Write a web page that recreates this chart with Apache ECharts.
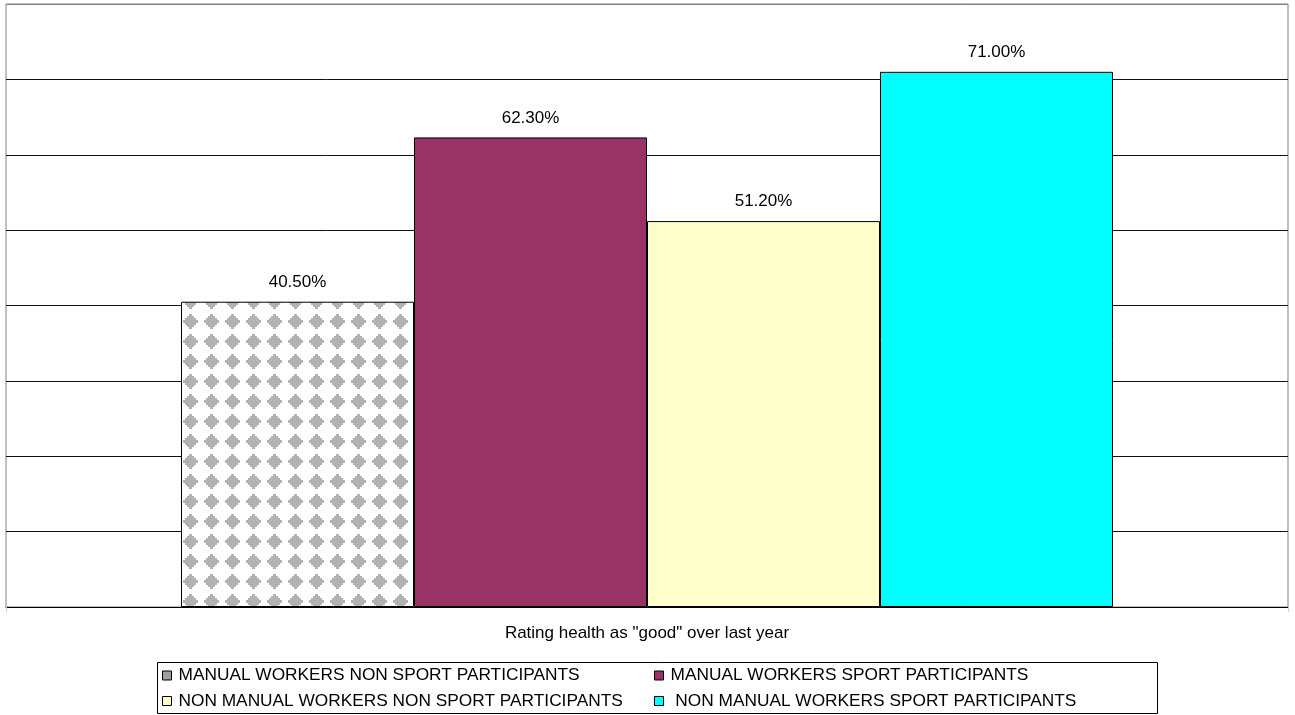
<!DOCTYPE html>
<html>
<head>
<meta charset="utf-8">
<script src="https://cdn.jsdelivr.net/npm/echarts@6/dist/echarts.min.js"></script>
<style>
html,body{margin:0;padding:0;background:#fff;}
#chart{width:1295px;height:715px;}
</style>
</head>
<body>
<div id="chart"></div>
<script>
// ---- data ----
const categories = ['Rating health as "good" over last year'];
const seriesNames = [
  'MANUAL WORKERS NON SPORT PARTICIPANTS',
  'MANUAL WORKERS SPORT PARTICIPANTS',
  'NON MANUAL WORKERS NON SPORT PARTICIPANTS',
  ' NON MANUAL WORKERS SPORT PARTICIPANTS'
];
const values = [40.5, 62.3, 51.2, 71.0];
const yTicks = [0, 10, 20, 30, 40, 50, 60, 70, 80];

// ---- pattern for first series (grey diamonds) ----
function makePattern() {
  const tw = 21, th = 20;
  const c = document.createElement('canvas');
  c.width = tw; c.height = th;
  const ctx = c.getContext('2d');
  ctx.fillStyle = '#fff';
  ctx.fillRect(0, 0, tw, th);
  ctx.fillStyle = '#b2b2b2';
  const cx0 = 1, cy0 = 1;
  const offs = [[0,0],[tw,0],[0,th],[tw,th],[-tw,0],[0,-th],[-tw,-th],[tw,-th],[-tw,th]];
  offs.forEach(([ox, oy]) => {
    for (let r = -7; r <= 7; r++) {
      const hw = 7 - Math.abs(r) + (Math.abs(r) % 2 === 1 ? 1 : 0);
      ctx.fillRect(cx0 + ox - hw, cy0 + oy + r, hw * 2 + 1, 1);
    }
  });
  return c;
}
const patternCanvas = makePattern();

const fills = [
  { image: patternCanvas, repeat: 'repeat' },
  '#993366',
  '#FFFFCC',
  '#00FFFF'
];
const legendIconColors = ['#a0a0a0', '#993366', '#FFFFCC', '#00FFFF'];

const FONT = 'Liberation Sans, Arial, sans-serif';

const chart = echarts.init(document.getElementById('chart'), null, { renderer: 'canvas' });

const series = seriesNames.map((name, i) => ({
  name: name,
  type: 'bar',
  data: [values[i]],
  barWidth: 233,
  barGap: '0%',
  itemStyle: { color: fills[i], borderColor: '#000', borderWidth: 1 },
  label: {
    show: true,
    position: 'top',
    distance: 11,
    color: '#000',
    fontSize: 17,
    fontFamily: FONT,
    formatter: p => p.value.toFixed(2) + '%'
  },
  emphasis: { disabled: true },
  animation: false
}));

const legendBase = {
  orient: 'vertical',
  itemWidth: 9,
  itemHeight: 9,
  itemGap: 8.5,
  icon: 'rect',
  selectedMode: false,
  padding: 0,
  itemStyle: { borderColor: '#000', borderWidth: 1 },
  textStyle: { fontSize: 17.3, fontFamily: FONT, color: '#000', lineHeight: 17, padding: [0, 0, 0, 2] }
};

const option = {
  backgroundColor: '#fff',
  animation: false,
  grid: {
    left: 6, right: 7, top: 4, bottom: 108,
    show: true, borderColor: '#808080', borderWidth: 1, containLabel: false
  },
  xAxis: {
    type: 'category',
    data: categories,
    axisLine: { show: true, lineStyle: { color: '#000', width: 1 } },
    axisTick: { show: true, length: 5, lineStyle: { color: '#9fe8e8' } },
    axisLabel: { show: true, margin: 18, color: '#000', fontSize: 17, fontFamily: FONT },
    splitLine: { show: false }
  },
  yAxis: {
    type: 'value',
    min: yTicks[0],
    max: yTicks[yTicks.length - 1],
    interval: yTicks[1] - yTicks[0],
    axisLine: { show: false },
    axisTick: { show: false },
    axisLabel: { show: false },
    splitLine: {
      show: true,
      lineStyle: { color: ['#000', '#111', '#111', '#111', '#111', '#111', '#111', '#111', '#808080'], width: 1 }
    }
  },
  legend: [
    Object.assign({}, legendBase, {
      left: 162, top: 667,
      data: [0, 2].map(i => ({ name: seriesNames[i], itemStyle: { color: legendIconColors[i] } }))
    }),
    Object.assign({}, legendBase, {
      left: 654, top: 667,
      data: [1, 3].map(i => ({ name: seriesNames[i], itemStyle: { color: legendIconColors[i] } }))
    })
  ],
  graphic: [{
    type: 'rect',
    silent: true,
    shape: { x: 157.5, y: 662.5, width: 1000, height: 51 },
    style: { fill: 'none', stroke: '#000', lineWidth: 1 }
  }],
  series: series
};

chart.setOption(option);
</script>
</body>
</html>
